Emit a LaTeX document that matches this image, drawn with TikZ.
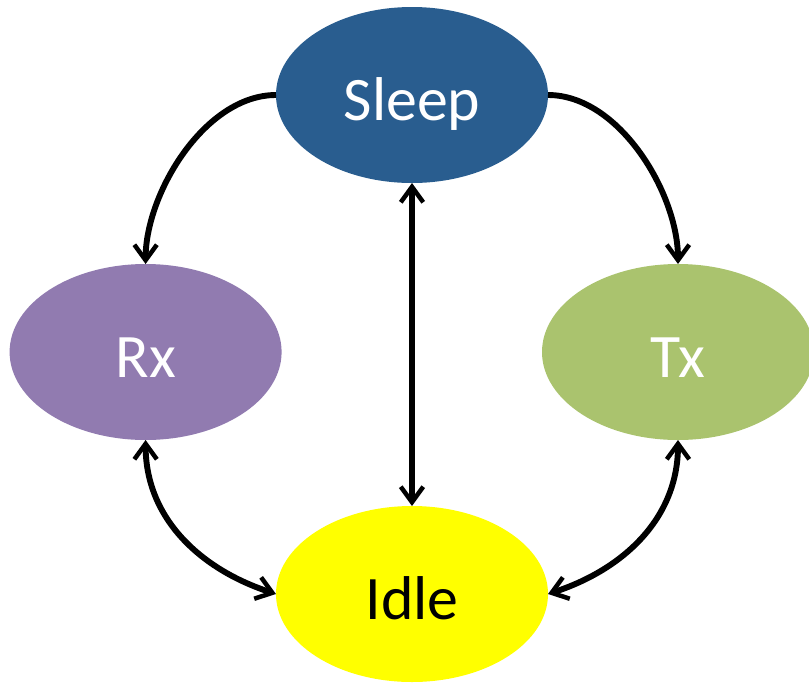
\documentclass[tikz,border=0pt]{standalone}
\usepackage{fontspec}
\setmainfont{Carlito}
\usepackage{tikz}
\usetikzlibrary{arrows.meta,shapes.geometric,positioning}
\definecolor{sleepblue}{RGB}{41,93,143}
\definecolor{rxpurple}{RGB}{145,123,176}
\definecolor{txgreen}{RGB}{170,195,110}
\definecolor{idleyellow}{RGB}{255,255,0}
\tikzset{
	barb/.tip = {Straight Barb[length=11pt,width=16pt,line width=3.2pt]},
	statenode/.style = {ellipse, inner sep=0pt, outer sep=0pt,
		minimum width=6.8cm, minimum height=4.4cm,
		text height=1.25cm, text depth=0pt, font=\fontsize{44}{44}\selectfont},
	st_sleep/.style = {statenode, fill=sleepblue, text=white},% etat sommeil
	st_rx/.style = {statenode, fill=rxpurple, text=white},% etat reception
	st_tx/.style = {statenode, fill=txgreen, text=white},% etat emission
	st_idle/.style = {statenode, fill=idleyellow, text=black},% etat repos
	trans/.style = {line width=4.2pt, draw=black, -barb},
	trans2/.style = {line width=4.2pt, draw=black, barb-barb}
}

\begin{document}
\begin{tikzpicture}
\useasboundingbox (0,0) rectangle (20.225,-17.05);
\node [st_sleep] (sleep) at (10.3,-2.375) {Sleep};
\node [st_rx] (rx) at (3.64,-8.8) {Rx};
\node [st_tx] (tx) at (16.95,-8.8) {Tx};
\node [st_idle] (idle) at (10.3,-14.85) {Idle};

\draw [trans] (sleep.west) to[out=180,in=90,looseness=0.85] (rx.north);
\draw [trans] (sleep.east) to[out=0,in=90,looseness=0.85] (tx.north);
\draw [trans2] (sleep.south) -- (idle.north);
\draw [trans2] (rx.south) to[out=-90,in=162] (idle.west);
\draw [trans2] (tx.south) to[out=-90,in=18] (idle.east);
\end{tikzpicture}
\end{document}
